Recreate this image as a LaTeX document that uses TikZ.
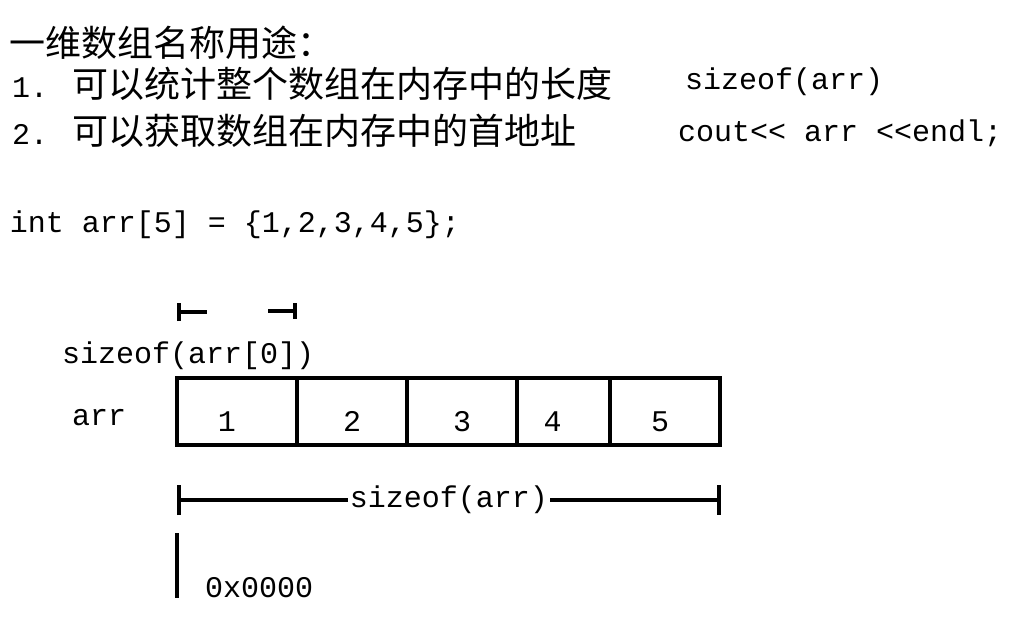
\documentclass[tikz,border=0pt]{standalone}
\usepackage{fontspec}
\setmainfont{Liberation Mono}[Ligatures=TeXOff]
\newfontfamily\cjk{Noto Sans CJK SC}[Scale=1.2]
\usetikzlibrary{arrows.meta,positioning}

\begin{document}
\begin{tikzpicture}[x=0.5pt, y=-0.5pt,
    every node/.style={inner sep=0pt, outer sep=0pt, font=\fontsize{15pt}{18pt}\selectfont},
    txt/.style={anchor=base west},
    cell/.style={draw, line width=2pt, minimum height=33.5pt, anchor=north west,
        text height=20pt, text depth=0pt},
    heavy/.style={line width=2pt}
    ]
    \useasboundingbox (0,0) rectangle (1024,633);

    % Define text lines
    \node[txt] (title) at (10,56) {\cjk 一维数组名称用途：};
    \node[txt] (item1) at (12,97) {1. {\cjk 可以统计整个数组在内存中的长度}};
    \node[txt] (item2) at (12,144) {2. {\cjk 可以获取数组在内存中的首地址}};
    \node[txt] (use1) at (685,89) {sizeof(arr)};
    \node[txt] (use2) at (678,141) {cout<< arr <<endl;};
    \node[txt] (decl) at (10,232) {int arr[5] = \{1,2,3,4,5\};};

    % Define array cells
    \node[cell, minimum width=60pt] (c1) at (177,378) {1\kern10pt};
    \node[cell, minimum width=55pt] (c2) at (c1.north east) {2};
    \node[cell, minimum width=55pt] (c3) at (c2.north east) {3};
    \node[cell, minimum width=46.5pt] (c4) at (c3.north east) {4\kern11pt};
    \node[cell, minimum width=55pt] (c5) at (c4.north east) {5\kern5pt};
    \node[txt] (arrname) at (72,425) {arr};

    % Element size
    \coordinate (e1) at (177,312);
    \coordinate (e2) at (207,312);
    \coordinate (e3) at (268,311);
    \coordinate (e4) at (297,311);
    \draw[heavy, {Bar[width=9pt]}-] (e1) -- (e2);
    \draw[heavy, -{Bar[width=8pt]}] (e3) -- (e4);
    \node[txt] (elemsize) at (62,363) {sizeof(arr[0])};

    % Whole array size
    \coordinate (dimL) at (177,500);
    \coordinate (dimR) at (721,500);
    \draw[heavy, {Bar[width=15pt]}-{Bar[width=15pt]}] (dimL) -- (dimR)
        node[midway, fill=white, inner xsep=1pt] (total) {sizeof(arr)};

    % First address
    \coordinate (a1) at (177,533);
    \coordinate (a2) at (177,598);
    \draw[heavy] (a1) -- (a2);
    \node[txt] (addr) at (205,597) {0x0000};

\end{tikzpicture}
\end{document}
